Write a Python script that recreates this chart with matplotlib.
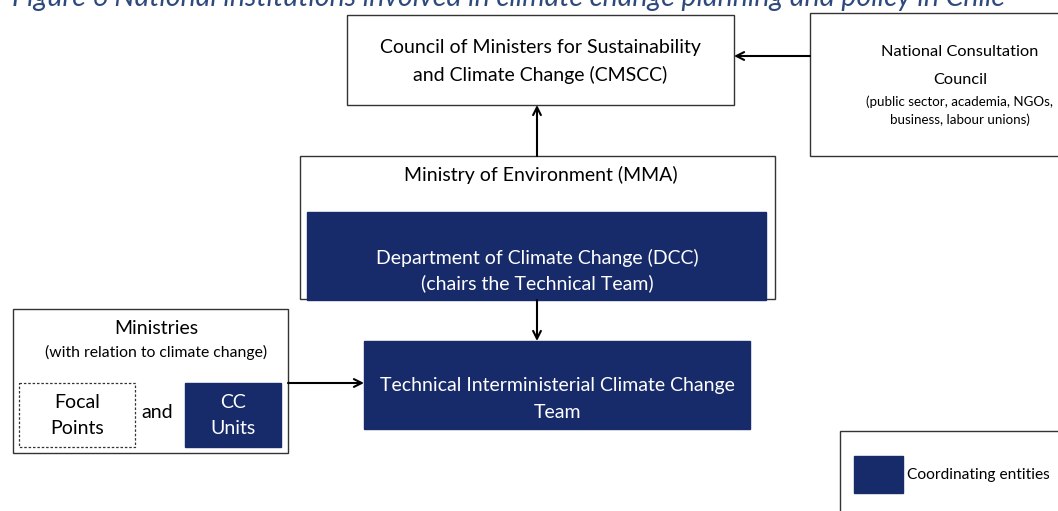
import matplotlib.pyplot as plt
from matplotlib.patches import Rectangle

plt.rcParams['font.family'] = ['Lato', 'DejaVu Sans']

navy = '#172B6B'
title = 'Figure 6 National institutions involved in climate change planning and policy in Chile'

council_lbl = ['Council of Ministers for Sustainability', 'and Climate Change (CMSCC)']
ncc_lbl = ['National Consultation', 'Council']
ncc_sub = ['(public sector, academia, NGOs,', 'business, labour unions)']
mma_lbl = 'Ministry of Environment (MMA)'
dcc_lbl = ['Department of Climate Change (DCC)', '(chairs the Technical Team)']
team_lbl = ['Technical Interministerial Climate Change', 'Team']
min_lbl = 'Ministries'
min_sub = '(with relation to climate change)'
focal_lbl = ['Focal', 'Points']
cc_lbl = ['CC', 'Units']
legend_lbl = 'Coordinating entities'

fig = plt.figure(figsize=(10.58, 5.11), dpi=100)
ax = fig.add_axes([0, 0, 1, 1])
ax.set_xlim(0, 1058)
ax.set_ylim(511, 0)
ax.axis('off')

def box(x0, y0, x1, y1, fc='white', ec='#333333', ls='-', lw=1.0, z=1):
    ax.add_patch(Rectangle((x0, y0), x1 - x0, y1 - y0, facecolor=fc,
                           edgecolor=ec, linestyle=ls, linewidth=lw, zorder=z))

def lines(x, ys, txt, size, color='black'):
    for y, t in zip(ys, txt):
        ax.text(x, y, t, ha='center', va='center', fontsize=size, color=color, zorder=5)

def arrow(x0, y0, x1, y1):
    ax.annotate('', xy=(x1, y1), xytext=(x0, y0),
                arrowprops=dict(arrowstyle='->', color='black', lw=1.5,
                                mutation_scale=14, shrinkA=0, shrinkB=0), zorder=4)

ax.text(12, 6, title, fontsize=20.5, style='italic', color='#2E4A7D', va='baseline', ha='left')

# council
box(347, 15, 734, 105)
lines(540, [48, 75], council_lbl, 14)

# national consultation council
box(810, 13, 1070, 156)
lines(960, [52, 80], ncc_lbl, 11.8)
lines(960, [102, 120], ncc_sub, 9.6)
arrow(810, 56, 734, 56)

# ministry of environment + DCC
box(300, 156, 775, 299)
ax.text(541, 175, mma_lbl, ha='center', va='center', fontsize=14)
box(307, 212, 766, 300, fc=navy, ec=navy, z=2)
lines(537, [258, 283], dcc_lbl, 14, color='white')
arrow(537, 156, 537, 105)
arrow(537, 300, 537, 341)

# technical team
box(364, 341, 750, 429, fc=navy, ec=navy)
lines(557, [386, 412], team_lbl, 14, color='white')

# ministries
box(13, 309, 288, 453)
ax.text(156, 328, min_lbl, ha='center', va='center', fontsize=14)
ax.text(156, 352, min_sub, ha='center', va='center', fontsize=11.3)
box(19, 383, 135, 447, ls=(0, (2, 1.5)), lw=0.9)
lines(77, [403, 428], focal_lbl, 14)
ax.text(157, 413, 'and', ha='center', va='center', fontsize=14)
box(185, 383, 281, 447, fc=navy, ec=navy)
lines(233, [403, 428], cc_lbl, 14, color='white')
arrow(288, 383, 364, 383)

# legend
box(840, 431, 1070, 520)
box(854, 456, 903, 493, fc=navy, ec=navy)
ax.text(907, 475, legend_lbl, ha='left', va='center', fontsize=11.2)

fig.savefig('out.png', dpi=100)
